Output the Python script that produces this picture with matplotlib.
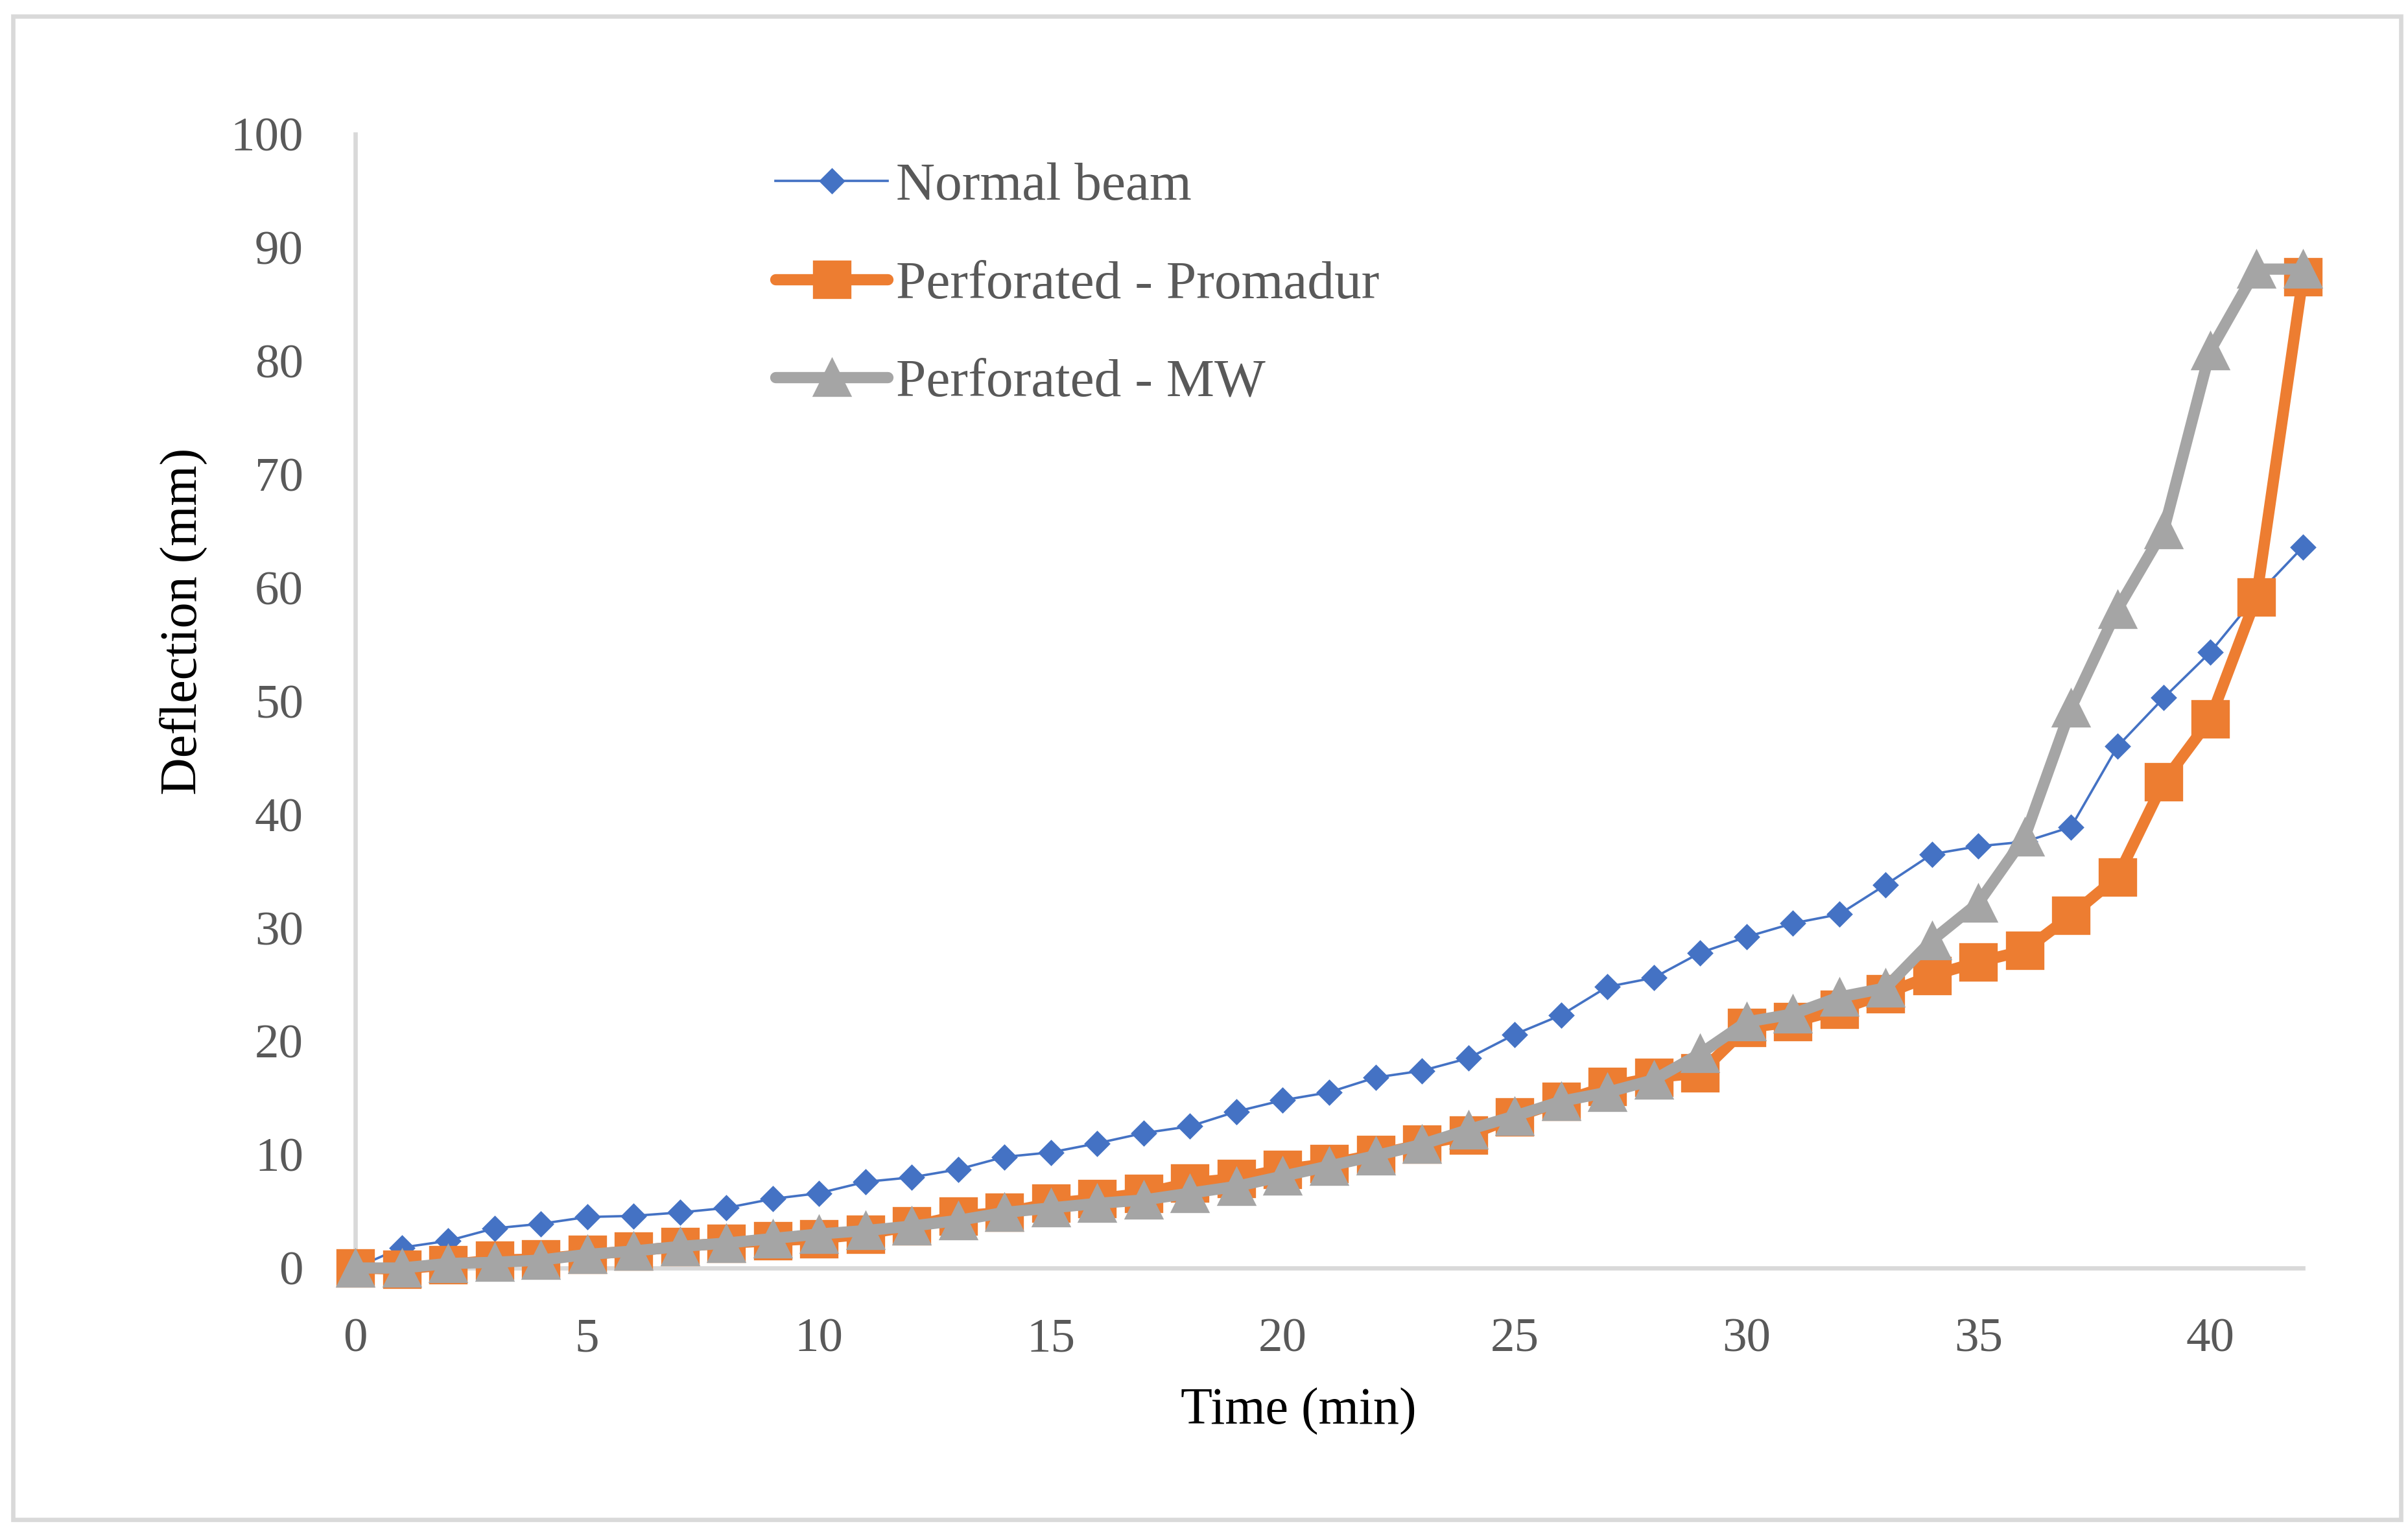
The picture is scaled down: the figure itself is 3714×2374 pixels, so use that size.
import numpy as np
import matplotlib
matplotlib.use("Agg")
import matplotlib.pyplot as plt
from matplotlib.patches import Rectangle

# data
time_min = list(range(0, 43))

normal_beam = [0.0, 1.8, 2.4, 3.5, 3.9, 4.5, 4.6, 4.9, 5.3, 6.1,
               6.6, 7.6, 8.0, 8.7, 9.8, 10.2, 11.0, 11.9, 12.5, 13.8,
               14.8, 15.5, 16.8, 17.4, 18.5, 20.6, 22.3, 24.8, 25.6, 27.8,
               29.2, 30.4, 31.2, 33.8, 36.5, 37.2, 37.6, 38.9, 46.0, 50.3,
               54.3, 59.3, 63.6]

perf_promadur = [0.0, -0.1, 0.3, 0.7, 0.8, 1.2, 1.5, 1.9, 2.2, 2.4,
                 2.6, 3.0, 3.7, 4.6, 4.9, 5.7, 6.1, 6.6, 7.5, 7.9,
                 8.7, 9.2, 10.0, 10.9, 11.7, 13.3, 14.7, 16.0, 16.8, 17.2,
                 21.2, 21.7, 22.8, 24.2, 25.8, 27.0, 28.0, 31.1, 34.5, 42.9,
                 48.4, 59.2, 87.4]

perf_mw = [0.0, 0.0, 0.4, 0.5, 0.7, 1.2, 1.5, 1.9, 2.2, 2.6,
           3.0, 3.3, 3.7, 4.2, 4.9, 5.3, 5.7, 6.0, 6.6, 7.2,
           8.1, 9.0, 9.9, 10.9, 12.2, 13.4, 14.7, 15.5, 16.6, 18.9,
           21.7, 22.4, 23.9, 24.7, 28.9, 32.2, 38.0, 49.4, 58.1, 65.1,
           80.9, 88.1, 88.1]

labels = ["Normal beam", "Perforated - Promadur", "Perforated - MW"]

plt.rcParams['font.family'] = ['Liberation Serif', 'DejaVu Serif']

W, H = 3714, 2374
X0, X1, Y0, Y1 = 548, 3552, 1956, 207   # plot area in pixels
fig = plt.figure(figsize=(W / 240, H / 240), dpi=240)
ax = fig.add_axes([X0 / W, 1 - Y0 / H, (X1 - X0) / W, (Y0 - Y1) / H])

ax.plot(time_min, normal_beam, color='#4472C4', lw=1.1, marker='D', ms=7.5,
        solid_joinstyle='round', clip_on=False, zorder=3, label=labels[0])
ax.plot(time_min, perf_promadur, color='#ED7D31', lw=5.2, marker='s', ms=17,
        solid_joinstyle='round', solid_capstyle='round', clip_on=False, zorder=4, label=labels[1])
ax.plot(time_min, perf_mw, color='#A5A5A5', lw=5.2, marker='^', ms=17,
        solid_joinstyle='round', solid_capstyle='round', clip_on=False, zorder=5, label=labels[2])

ax.set_xlim(0, 42)
ax.set_ylim(0, 100)
ax.set_xticks(np.arange(0, 41, 5))
ax.set_yticks(np.arange(0, 101, 10))

for s in ['top', 'right']:
    ax.spines[s].set_visible(False)
for s in ['left', 'bottom']:
    ax.spines[s].set_color('#D9D9D9')
    ax.spines[s].set_linewidth(2.0)

ax.tick_params(axis='both', length=0, labelsize=22.5, labelcolor='#595959')
ax.tick_params(axis='y', pad=24)
ax.tick_params(axis='x', pad=23)

ax.set_xlabel('Time (min)', fontsize=24, color='black')
ax.set_ylabel('Deflection (mm)', fontsize=24, color='black')
ax.xaxis.set_label_coords((2003 - X0) / (X1 - X0), -(2177 - Y0) / (Y0 - Y1), transform=ax.transAxes)
ax.yaxis.set_label_coords(-(X0 - 283) / (X1 - X0), (Y0 - 958) / (Y0 - Y1), transform=ax.transAxes)
ax.xaxis.label.set_va('center')
ax.yaxis.label.set_va('center')

leg = ax.legend(loc='upper left', bbox_to_anchor=(1196 / W, 1 - 250 / H),
                bbox_transform=fig.transFigure, frameon=False, fontsize=25,
                handlelength=2.08, handletextpad=0.15, labelspacing=0.9,
                borderpad=0, borderaxespad=0)
for t in leg.get_texts():
    t.set_color('#595959')

# outer chart border
fig.add_artist(Rectangle((20 / W, 1 - 2344 / H), (3703 - 20) / W, (2344 - 25) / H,
                         transform=fig.transFigure, fill=False, ec='#D9D9D9', lw=2.0))

fig.savefig('out.png', dpi=240, facecolor='white')
